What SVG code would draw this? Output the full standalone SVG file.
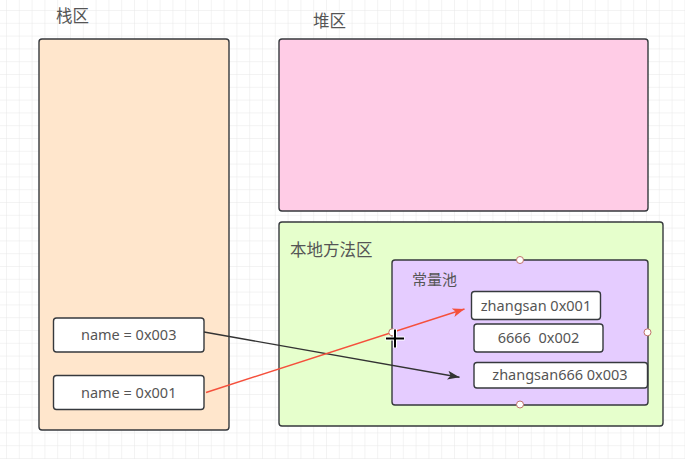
<svg xmlns="http://www.w3.org/2000/svg" width="685" height="459" viewBox="0 0 685 459">
<style>
.box{stroke:#36393d;stroke-width:1.4}
.cell{fill:#ffffff;stroke:#36393d;stroke-width:1.4}
.zh{font-family:"Noto Sans CJK SC","Noto Sans",sans-serif;fill:#555555}
.t{font-family:"Noto Sans","Noto Sans CJK SC",sans-serif;font-size:14.5px;fill:#555555;text-anchor:middle;white-space:pre}
.handle{fill:#ffffff;stroke:#c0736a;stroke-width:1}
</style>
<defs>
<pattern id="grid" patternUnits="userSpaceOnUse" x="6" y="10" width="12.8" height="12.8">
<path d="M0 0H12.8M0 0V12.8" fill="none" stroke="#e8e8e8" stroke-width="1"/>
</pattern>
<marker id="arrB" markerUnits="userSpaceOnUse" markerWidth="14" markerHeight="10" refX="12" refY="4.5" orient="auto">
<path d="M0,0 L12,4.5 L0,9 L3,4.5 Z" fill="#333333"/>
</marker>
<marker id="arrR" markerUnits="userSpaceOnUse" markerWidth="14" markerHeight="10" refX="12" refY="4.5" orient="auto">
<path d="M0,0 L12,4.5 L0,9 L3,4.5 Z" fill="#f5503c"/>
</marker>
</defs>
<rect width="685" height="459" fill="#ffffff"/>
<rect width="685" height="459" fill="url(#grid)"/>

<g id="stack">
<text class="zh" x="56" y="22" font-size="16.5">栈区</text>
<rect class="box" x="39" y="39" width="190" height="391" rx="3" fill="#ffe6cc"/>
</g>
<g id="heap">
<text class="zh" x="313" y="26.5" font-size="16.5">堆区</text>
<rect class="box" x="279" y="39" width="369" height="172" rx="3" fill="#ffcce6"/>
</g>
<g id="native">
<rect class="box" x="279" y="222" width="384" height="204" rx="3" fill="#e6ffcc"/>
<text class="zh" x="290" y="255.5" font-size="16.5">本地方法区</text>
</g>
<g id="pool">
<rect class="box" x="392" y="260" width="256" height="145" rx="3" fill="#e5ccff"/>
<text class="zh" x="412" y="284.5" font-size="15">常量池</text>
</g>
<g id="s1">
<rect class="cell" x="53.5" y="318" width="150.5" height="34" rx="3"/>
<text class="t" x="128.7" y="340">name = 0x003</text>
</g>
<g id="s2">
<rect class="cell" x="53.5" y="375.5" width="150.5" height="34" rx="3"/>
<text class="t" x="128.7" y="397.5">name = 0x001</text>
</g>
<g id="c1">
<rect class="cell" x="471.5" y="291.5" width="129" height="28" rx="3"/>
<text class="t" x="536" y="310.5">zhangsan 0x001</text>
</g>
<g id="c2">
<rect class="cell" x="474" y="324" width="129" height="28" rx="3"/>
<text class="t" x="538.5" y="343">6666  0x002</text>
</g>
<g id="c3">
<rect class="cell" x="474" y="362.5" width="173.5" height="25.5" rx="3"/>
<text class="t" x="560" y="380">zhangsan666 0x003</text>
</g>

<g id="connectors">
<line x1="204" y1="332" x2="459.5" y2="377.3" stroke="#333333" stroke-width="1.4" marker-end="url(#arrB)"/>
<line x1="206" y1="392.5" x2="464.5" y2="309" stroke="#f5503c" stroke-width="1.4" marker-end="url(#arrR)"/>
</g>

<g id="handles">
<circle class="handle" cx="520" cy="260" r="3.5"/>
<circle class="handle" cx="647.5" cy="332.3" r="3.5"/>
<circle class="handle" cx="520" cy="404.5" r="3.5"/>
<circle class="handle" cx="392.3" cy="332.3" r="3.5"/>
</g>
<g id="cursor">
<path d="M385.5 338.5H404.5M395 329V348" stroke="#ffffff" stroke-width="4"/>
<path d="M386 338.5H404M395 329.5V347.5" stroke="#000000" stroke-width="2"/>
</g>
</svg>
